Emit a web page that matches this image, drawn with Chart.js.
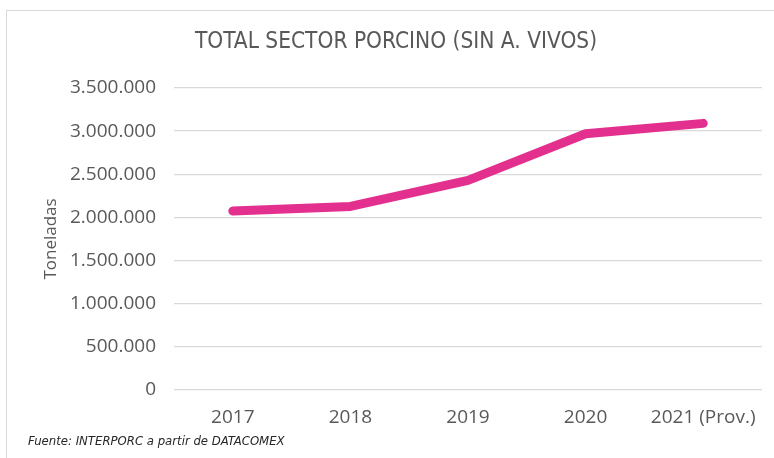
<!DOCTYPE html>
<html>
<head>
<meta charset="utf-8">
<script src="https://cdn.jsdelivr.net/npm/chart.js@4.4.1/dist/chart.umd.min.js"></script>
<style>
  html, body { margin: 0; padding: 0; background: #fff; }
  #wrap { position: relative; width: 774px; height: 458px; overflow: hidden; }
  #frame { position: absolute; left: 6px; top: 10px; width: 900px; height: 600px;
           border-left: 1.5px solid #d9d9d9; border-top: 1.5px solid #d9d9d9; }
  #title { position: absolute; left: 0; width: 792px; top: 27px; text-align: center;
           font: 22.5px "DejaVu Sans Condensed", sans-serif; color: #595959; }
  #source { position: absolute; left: 28px; top: 433px;
            font: italic 13px "DejaVu Sans Condensed", sans-serif; color: #262626; }
  canvas { position: absolute; left: 0; top: 0; }
</style>
</head>
<body>
<div id="wrap">
  <div id="frame"></div>
  <canvas id="chart" width="774" height="458"></canvas>
  <div id="title">TOTAL SECTOR PORCINO  (SIN A. VIVOS)</div>
  <div id="source">Fuente: INTERPORC  a partir de DATACOMEX</div>
</div>
<script>
// Toneladas por año (exportaciones sector porcino sin animales vivos)
const years = ['2017', '2018', '2019', '2020', '2021 (Prov.)'];
const toneladas = [2074000, 2128000, 2430000, 2970000, 3090000];

// Eje Y: 0 a 3.500.000 cada 500.000
const yMin = 0;
const yMax = 3500000;
const yStep = 500000;

const fmt = v => String(v).replace(/\B(?=(\d{3})+(?!\d))/g, '.');

new Chart(document.getElementById('chart'), {
  type: 'line',
  data: {
    labels: years,
    datasets: [{
      data: toneladas,
      borderColor: '#E3308F',
      borderWidth: 9,
      borderCapStyle: 'round',
      borderJoinStyle: 'round',
      pointRadius: 0,
      tension: 0,
      fill: false
    }]
  },
  options: {
    responsive: false,
    animation: false,
    layout: { padding: { top: 88, right: 12, bottom: 0, left: 0 } },
    plugins: { legend: { display: false }, tooltip: { enabled: false } },
    scales: {
      x: {
        offset: true,
        afterFit: s => { s.height = 68; },
        grid: { display: false },
        border: { display: false },
        ticks: { font: { family: 'Open Sans', size: 19 }, color: '#595959', padding: 8, maxRotation: 0 }
      },
      y: {
        min: yMin,
        max: yMax,
        afterFit: s => { s.width = 174; },
        grid: { color: '#d9d9d9', lineWidth: 1.3, drawTicks: false },
        border: { display: false },
        ticks: { stepSize: yStep, font: { family: 'Open Sans', size: 19 }, color: '#595959', padding: 18, callback: fmt },
        title: {
          display: true,
          text: 'Toneladas',
          font: { family: 'Open Sans', size: 17 },
          color: '#595959',
          padding: { top: 41, bottom: 0 }
        }
      }
    }
  }
});
</script>
</body>
</html>
